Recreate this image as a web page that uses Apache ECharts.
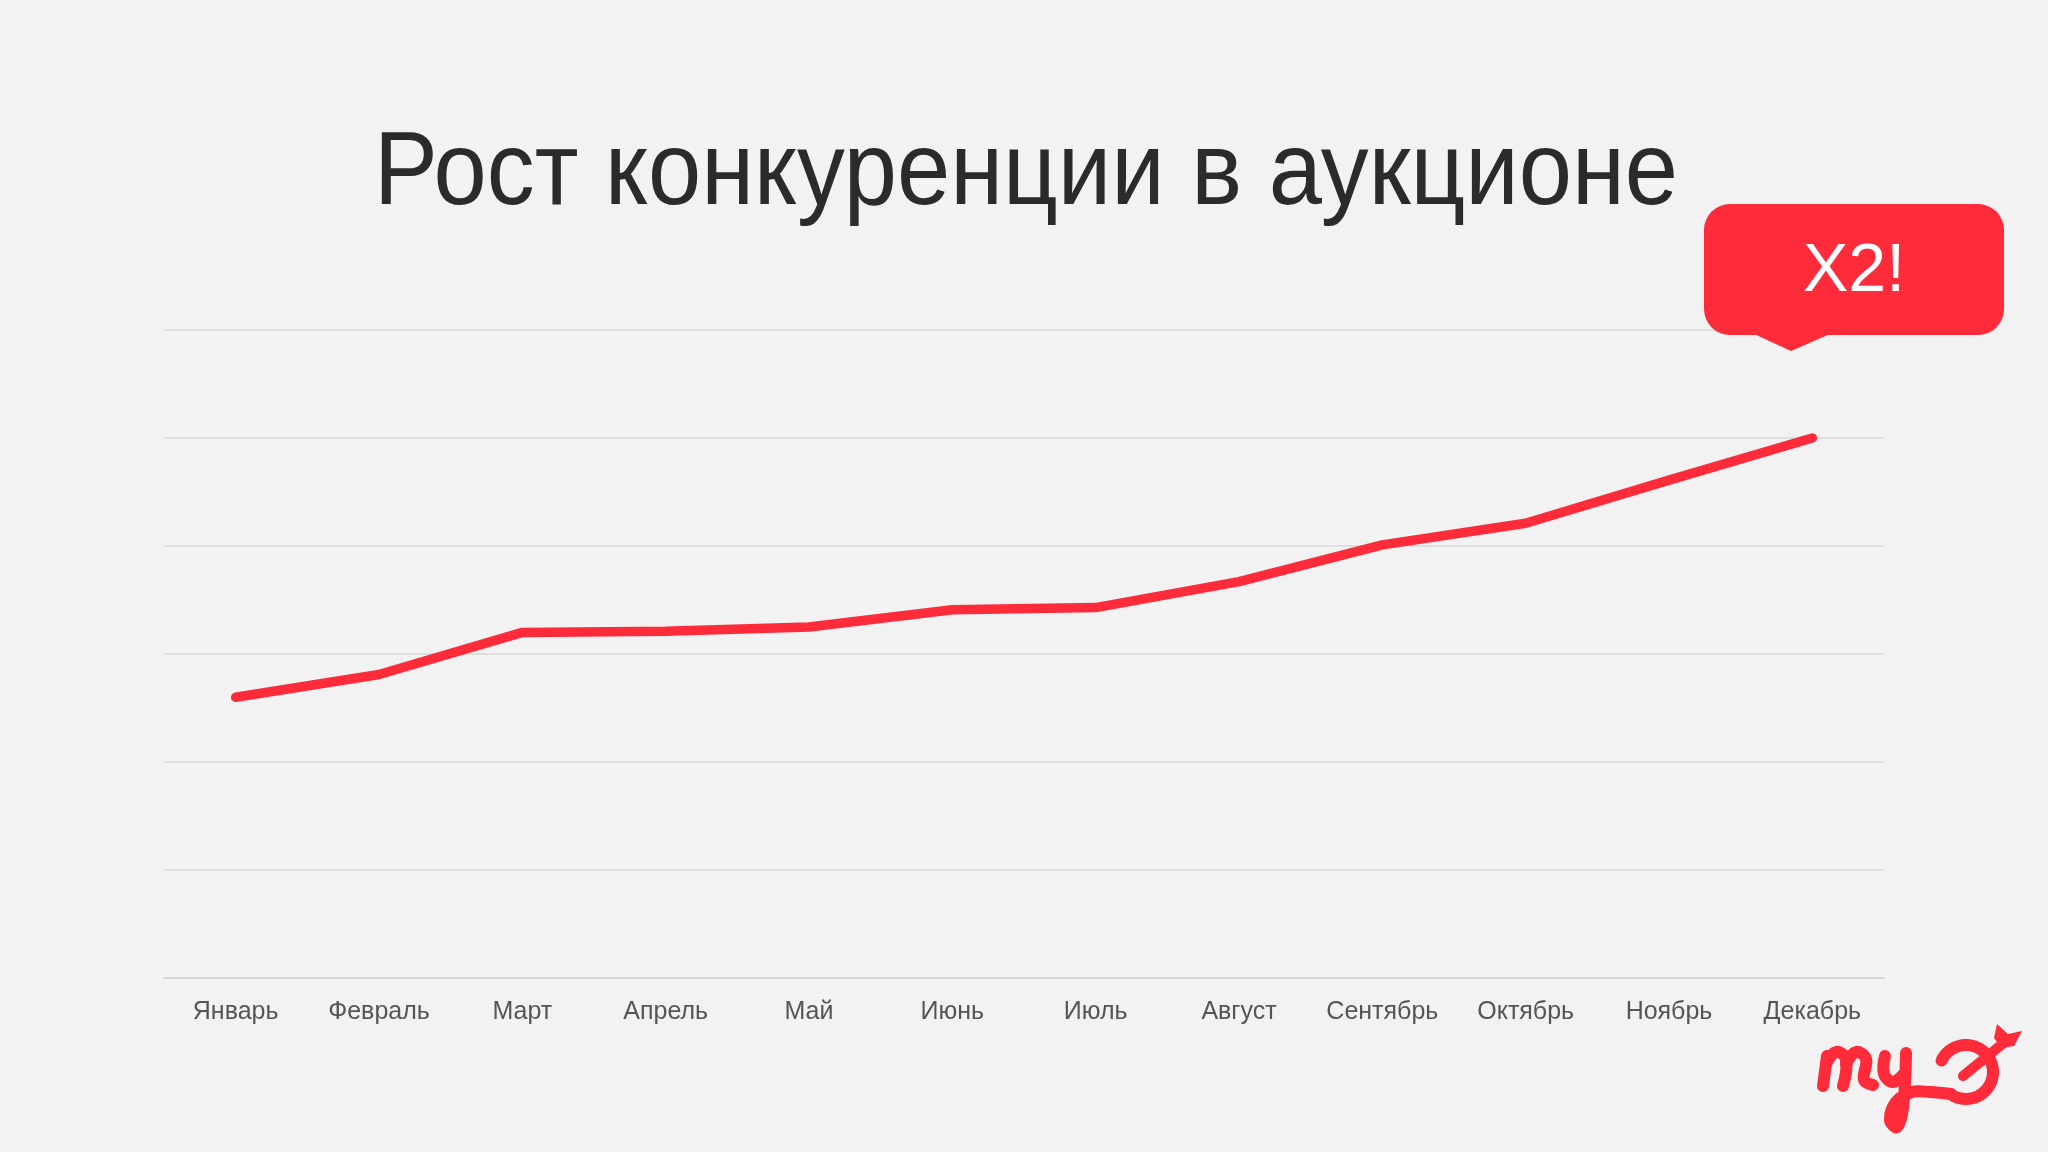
<!DOCTYPE html>
<html>
<head>
<meta charset="utf-8">
<script src="https://cdn.jsdelivr.net/npm/echarts@6/dist/echarts.min.js"></script>
<style>
html,body{margin:0;padding:0;background:#f2f2f2;}
#main{width:2048px;height:1152px;}
</style>
</head>
<body>
<div id="main"></div>
<script>
const titleText = 'Рост конкуренции в аукционе';
const categories = ['Январь','Февраль','Март','Апрель','Май','Июнь','Июль','Август','Сентябрь','Октябрь','Ноябрь','Декабрь'];
const values = [2.60, 2.81, 3.20, 3.21, 3.25, 3.41, 3.43, 3.67, 4.01, 4.21, 4.61, 5.00];
const calloutText = 'X2!';

const RED = '#fe2b3b';
function arcPts(cx, cy, r, a0, a1, n) {
  const pts = [];
  for (let i = 0; i <= n; i++) {
    const a = (a0 + (a1 - a0) * i / n) * Math.PI / 180;
    pts.push([cx + r * Math.cos(a), cy + r * Math.sin(a)]);
  }
  return pts;
}
const stroke = {stroke: RED, lineWidth: 12, lineCap: 'round', lineJoin: 'round', fill: null};
const chart = echarts.init(document.getElementById('main'));
chart.setOption({
  backgroundColor: '#f2f2f2',
  animation: false,
  grid: {left: 164, right: 164, top: 330, bottom: 174, containLabel: false},
  xAxis: {
    type: 'category',
    data: categories,
    boundaryGap: true,
    axisLine: {show: true, lineStyle: {color: '#d8d8d8', width: 2}},
    axisTick: {show: false},
    axisLabel: {color: '#555555', fontSize: 25, margin: 22, fontFamily: 'Liberation Sans, Arial, sans-serif', interval: 0}
  },
  yAxis: {
    type: 'value',
    min: 0, max: 6, interval: 1,
    axisLine: {show: false},
    axisTick: {show: false},
    axisLabel: {show: false},
    splitLine: {show: true, lineStyle: {color: '#d9d9d9', width: 1.5}}
  },
  series: [{
    type: 'line',
    data: values,
    symbol: 'none',
    smooth: false,
    lineStyle: {color: RED, width: 9.5, cap: 'round', join: 'round'},
    z: 3
  }],
  graphic: [
    {
      type: 'text', x: 1026, y: 175, scaleX: 0.92, originX: 0, originY: 0,
      style: {text: titleText, fill: '#2b2b2b', font: '104px "Liberation Sans", Arial, sans-serif', align: 'center', verticalAlign: 'middle'}
    },
    {
      type: 'rect', shape: {x: 1704, y: 204, width: 300, height: 131, r: 26},
      style: {fill: RED}, z: 10
    },
    {
      type: 'polygon', shape: {points: [[1754, 334], [1830, 334], [1791, 351]]},
      style: {fill: RED}, z: 10
    },
    {
      type: 'text', x: 1854, y: 272, z: 11,
      style: {text: calloutText, fill: '#ffffff', font: '68px "Liberation Sans", Arial, sans-serif', align: 'center', verticalAlign: 'middle'}
    },
    // logo
    {type: 'polyline', z: 12, shape: {points: [[1827, 1056], [1823, 1086]]}, style: stroke},
    {type: 'polyline', z: 12, shape: {points: [[1826, 1064], [1836, 1052], [1846, 1059], [1843, 1086]], smooth: 0.4}, style: stroke},
    {type: 'polyline', z: 12, shape: {points: [[1846, 1064], [1856, 1052], [1866, 1059], [1864, 1080], [1873, 1085]], smooth: 0.4}, style: stroke},
    {type: 'polyline', z: 12, shape: {points: [[1885, 1056], [1884, 1074], [1893, 1082], [1903, 1075]], smooth: 0.4}, style: stroke},
    {type: 'polyline', z: 12, shape: {points: [[1906, 1053], [1903, 1108], [1897, 1127], [1890, 1120], [1896, 1102], [1912, 1092], [1930, 1092], [1951, 1094]], smooth: 0.35}, style: stroke},
    {type: 'polyline', z: 12, shape: {points: arcPts(1966, 1072, 27, -155, 125, 40)}, style: stroke},
    {type: 'polyline', z: 12, shape: {points: [[1963, 1076], [2006, 1041]]}, style: {stroke: RED, lineWidth: 10, lineCap: 'round', fill: null}},
    {type: 'polygon', z: 12, shape: {points: [[1994, 1038], [1997, 1024], [2008, 1034], [2022, 1031], [2014, 1046], [2002, 1048]]}, style: {fill: RED}}
  ]
});
</script>
</body>
</html>
